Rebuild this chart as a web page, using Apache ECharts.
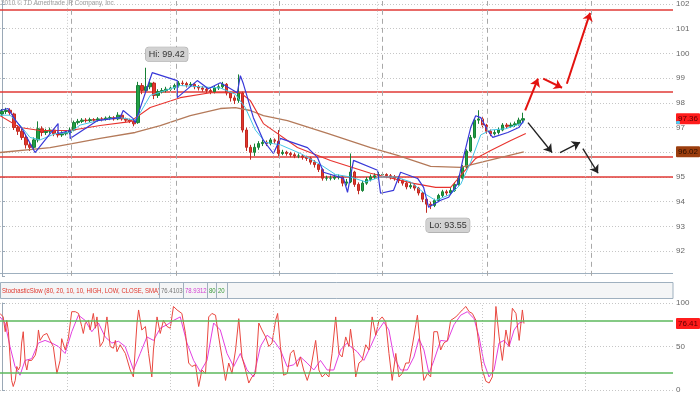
<!DOCTYPE html>
<html><head><meta charset="utf-8">
<script src="https://cdn.jsdelivr.net/npm/echarts@6/dist/echarts.min.js"></script>
<style>html,body{margin:0;padding:0;background:#fff}#c{width:700px;height:394px}</style>
</head><body><div id="c"></div>
<script>
// ---- data (bar index units on x, price on y) ----
const barSlots = 168;
// [open, close, low, high]
const candles = [
[97.55,97.65,97.45,97.75],[97.65,97.70,97.55,97.80],[97.70,97.60,97.50,97.78],[97.55,97.00,96.90,97.60],
[97.00,96.85,96.70,97.10],[96.85,96.60,96.50,96.95],[96.60,96.30,96.15,96.70],[96.30,96.20,96.05,96.40],
[96.20,96.50,96.10,96.60],[96.50,96.95,96.40,97.25],[96.95,96.80,96.65,97.05],[96.80,96.85,96.70,96.95],
[96.85,96.90,96.75,97.00],[96.90,96.75,96.65,96.95],[96.75,96.70,96.60,96.85],[96.70,96.75,96.62,96.85],
[96.75,96.80,96.68,96.90],[96.80,96.90,96.72,97.00],[96.90,97.20,96.85,97.28],[97.20,97.25,97.12,97.35],
[97.25,97.30,97.18,97.38],[97.30,97.28,97.20,97.38],[97.28,97.32,97.22,97.40],[97.32,97.30,97.22,97.38],
[97.30,97.35,97.24,97.42],[97.35,97.33,97.25,97.42],[97.33,97.38,97.28,97.45],[97.38,97.40,97.30,97.48],
[97.40,97.35,97.28,97.46],[97.35,97.50,97.30,97.62],[97.50,97.35,97.28,97.55],[97.35,97.30,97.22,97.40],
[97.30,97.25,97.18,97.36],[97.25,97.15,97.05,97.30],[97.20,98.70,97.15,98.85],[98.70,98.50,98.35,98.80],
[98.50,98.65,98.40,99.42],[98.65,98.80,98.55,98.95],[98.80,98.30,98.15,98.85],[98.30,98.45,98.20,98.55],
[98.45,98.50,98.38,98.60],[98.50,98.55,98.42,98.65],[98.55,98.60,98.48,98.70],[98.60,98.70,98.52,98.78],
[98.70,98.80,98.62,98.88],[98.80,98.78,98.68,98.90],[98.78,98.72,98.62,98.85],[98.72,98.75,98.64,98.84],
[98.75,98.65,98.55,98.80],[98.65,98.60,98.50,98.72],[98.60,98.55,98.45,98.68],[98.55,98.50,98.40,98.62],
[98.50,98.45,98.35,98.58],[98.45,98.60,98.38,98.68],[98.60,98.65,98.52,98.75],[98.65,98.75,98.58,98.85],
[98.75,98.40,98.30,98.80],[98.40,98.20,98.05,98.45],[98.20,98.10,97.95,98.30],[98.10,98.40,98.00,99.15],
[98.40,96.90,96.80,98.45],[96.90,96.20,96.05,97.00],[96.20,96.00,95.70,96.30],[96.00,96.20,95.85,96.35],
[96.20,96.35,96.10,96.45],[96.35,96.40,96.25,96.50],[96.40,96.35,96.25,96.48],[96.35,96.50,96.28,96.58],
[96.50,96.45,96.35,96.56],[96.45,95.95,95.85,96.90],[95.95,96.00,95.88,96.10],[96.00,95.95,95.86,96.06],
[95.95,95.90,95.80,96.02],[95.90,95.85,95.76,95.98],[95.85,95.85,95.76,95.95],[95.85,95.80,95.70,95.92],
[95.80,95.75,95.65,95.86],[95.75,95.60,95.50,95.82],[95.60,95.50,95.38,95.68],[95.50,95.30,95.20,95.55],
[95.30,94.95,94.85,95.35],[94.95,94.95,94.85,95.05],[94.95,94.95,94.86,95.06],[94.95,95.00,94.88,95.10],
[95.00,95.00,94.90,95.10],[95.00,94.75,94.62,95.05],[94.75,94.80,94.65,94.92],[94.80,95.20,94.75,95.95],
[95.20,94.70,94.60,95.25],[94.70,94.45,94.30,94.78],[94.45,94.75,94.40,94.85],[94.75,94.90,94.68,95.00],
[94.90,95.00,94.82,95.10],[95.00,95.05,94.92,95.15],[95.05,95.10,94.98,95.20],[95.10,95.10,95.00,95.20],
[95.10,95.05,94.95,95.15],[95.05,95.00,94.90,95.12],[95.00,94.95,94.85,95.08],[94.95,94.85,94.75,95.02],
[94.85,94.75,94.65,94.92],[94.75,94.60,94.50,94.82],[94.60,94.65,94.52,94.75],[94.65,94.55,94.45,94.72],
[94.55,94.35,94.25,94.60],[94.35,94.10,93.98,94.40],[94.10,93.90,93.55,94.15],[93.90,93.85,93.70,94.00],
[93.85,94.05,93.78,94.12],[94.05,94.25,93.98,94.32],[94.25,94.40,94.18,94.48],[94.40,94.35,94.25,94.48],
[94.35,94.45,94.28,94.55],[94.45,94.70,94.40,94.78],[94.70,94.95,94.65,95.05],[94.95,95.40,94.90,95.48],
[95.40,96.05,95.35,96.12],[96.05,96.60,96.00,96.70],[96.60,97.30,96.55,97.38],[97.30,97.35,97.15,97.70],
[97.35,97.10,97.00,97.42],[97.10,96.85,96.75,97.15],[96.85,96.75,96.65,96.92],[96.75,96.80,96.68,96.90],
[96.80,96.90,96.72,97.00],[96.90,97.10,96.85,97.18],[97.10,97.05,96.95,97.18],[97.05,97.10,96.98,97.20],
[97.10,97.15,97.02,97.24],[97.15,97.30,97.08,97.40],[97.30,97.36,97.20,97.60]
];
const fastMA = [[-0.5,97.5],[2,97.5],[4.5,97.1],[7,96.6],[9.5,96.5],[13.25,96.75],[17,96.8],[19.5,97.1],[24.5,97.3],[29.5,97.4],[33.25,97.3],[34.5,97.6],[37,98.3],[40.75,98.5],[44.5,98.7],[49.5,98.65],[54.5,98.6],[58.25,98.35],[60.75,97.8],[63.25,96.9],[65.75,96.4],[69.5,96.3],[74.5,95.95],[79.5,95.5],[83.25,95.1],[87,95.0],[90.75,94.8],[94.5,95.0],[98.25,95.0],[102,94.8],[105.75,94.3],[108.25,94.05],[112,94.3],[114.5,94.7],[117,95.6],[119.5,96.7],[122,96.9],[125.75,96.95],[130.25,97.2]];
const trailStop = [[-0.5,97.69],[1.5,97.77],[3.25,97.32],[5,96.96],[8.25,95.99],[14,97.16],[14,96.76],[17,96.88],[17,96.56],[23.75,97.28],[29.5,97.40],[30.25,97.69],[32.75,97.36],[33.25,97.20],[37.5,99.22],[43.75,98.90],[43.75,98.21],[48.75,98.90],[51.5,98.57],[54.5,98.81],[58.75,98.41],[59.5,99.10],[60.25,98.77],[62.75,97.40],[65.25,96.48],[67.75,95.95],[69.5,96.56],[76.25,96.19],[78.75,95.79],[80.25,95.19],[85.25,94.94],[86.25,94.38],[87.75,95.67],[93.75,95.27],[94.5,94.34],[97.75,94.46],[99.5,95.19],[103.75,94.94],[105.25,94.58],[106.5,93.77],[109.5,94.06],[111.5,94.18],[113.75,94.74],[115,95.67],[117,97.00],[118.25,97.48],[119.5,97.40],[121.25,96.88],[122.5,96.60],[126.25,96.80],[129,97.00],[130.25,97.28]];
const midMA = [[-0.5,97.48],[4.5,97.00],[9.5,96.88],[17,96.88],[24.5,97.08],[32,97.24],[37,97.81],[44.5,98.21],[52,98.41],[59.5,98.41],[62,98.09],[65.25,97.16],[73.75,96.19],[82,95.67],[92,95.15],[102.75,94.74],[108.25,94.58],[112,94.58],[114.5,95.06],[118.25,95.75],[122,96.07],[127,96.48],[130.75,96.76]];
const slowMA = [[-0.5,95.99],[12,96.19],[17.5,96.35],[24.5,96.56],[33.25,96.80],[39.5,97.08],[47,97.48],[54.5,97.77],[58.25,97.81],[62,97.69],[65.25,97.48],[71.25,97.28],[81.25,96.76],[92,96.19],[98.75,95.87],[107,95.43],[114.5,95.39],[119.5,95.59],[130.25,96.02]];
const stochK = [[-0.5,88],[0.3,84],[0.8,67],[1.2,80],[1.6,67],[2,38],[2.4,11],[2.8,4],[3.3,11],[3.7,27],[4.1,23],[4.5,27],[4.9,54],[5.3,67],[5.8,31],[6.2,23],[6.6,34],[7.4,34],[8.3,40],[8.7,48],[9.1,69],[9.5,57],[10.3,63],[11.2,65],[12,57],[12.8,50],[13.7,19],[14.5,34],[14.9,59],[15.8,46],[16.6,61],[17.4,90],[18.3,90],[19.1,88],[19.9,73],[20.3,65],[20.8,77],[21.6,80],[22,69],[22.8,88],[23.3,71],[23.7,84],[24.5,50],[25.3,56],[26.2,84],[27,50],[27.8,48],[28.3,57],[28.7,44],[29.5,52],[30.8,42],[32,23],[32.8,15],[33.7,77],[34.1,92],[34.9,69],[35.8,73],[36.6,42],[37.4,15],[37.8,46],[38.7,84],[39.5,65],[40.3,80],[41.2,73],[42,71],[42.8,96],[43.7,92],[44.9,88],[45.8,65],[46.6,31],[47.4,27],[48.3,29],[49.1,4],[49.9,23],[50.8,19],[51.6,84],[52.4,88],[53.3,86],[54.1,61],[54.9,38],[55.8,11],[56.6,31],[57.4,19],[58.3,46],[59.1,82],[59.9,38],[60.8,23],[61.6,8],[62.4,15],[63.3,19],[64.1,77],[64.9,69],[65.8,61],[66.6,50],[67.4,54],[68.3,80],[68.8,88],[69.5,50],[70.3,17],[71.2,19],[72,42],[72.8,46],[73.7,27],[74.5,38],[75.3,23],[76.2,11],[77,23],[78.3,57],[79.1,23],[79.9,15],[80.8,19],[81.6,15],[82.4,42],[83.3,84],[84.1,42],[84.9,38],[85.8,61],[86.6,50],[87,70],[87.8,42],[88.3,15],[89.1,31],[89.9,34],[90.8,52],[91.6,46],[92.4,84],[93.3,63],[94.1,80],[94.9,84],[95.8,78],[96.6,42],[97.4,11],[98.3,42],[99.1,15],[99.9,19],[100.8,31],[101.6,31],[102.4,50],[103.3,75],[103.7,86],[104.5,46],[105.3,11],[106.2,19],[107,15],[107.8,67],[108.7,67],[109.5,46],[110.3,54],[111.2,57],[112,80],[113.3,84],[114.1,88],[114.9,92],[115.8,96],[116.6,90],[117.4,88],[118.3,80],[119.1,50],[119.9,23],[120.8,10],[121.6,8],[122.4,15],[123.3,96],[124.1,61],[124.9,34],[125.8,69],[126.6,50],[127.4,94],[128.3,88],[129.1,57],[129.9,92],[130.3,76.41]];
const stochD = [[-0.5,84],[0.75,77],[2,50],[3.25,27],[4.5,17],[5.75,34],[7.42,36],[9.08,54],[10.75,57],[12.42,54],[14.08,50],[15.75,42],[17.42,67],[19.08,86],[20.75,80],[22.42,67],[24.08,77],[25.75,61],[27.42,54],[29.08,56],[30.75,50],[32.83,23],[34.5,42],[36.17,61],[37.83,57],[39.5,71],[41.17,75],[42.83,80],[44.5,84],[46.17,54],[47.83,34],[49.5,21],[51.17,34],[52.83,77],[54.5,69],[56.17,42],[57.83,27],[59.5,42],[61.17,23],[62.83,15],[64.5,50],[66.17,63],[67.83,57],[69.5,46],[71.17,27],[72.83,29],[74.5,38],[76.17,31],[77.83,23],[79.5,34],[81.17,23],[82.83,23],[84.5,46],[86.17,54],[87,50],[88.67,44],[90.33,34],[92,50],[93.67,67],[95.33,78],[96.58,69],[97.83,38],[99.5,23],[101.17,23],[102.83,38],[104.08,59],[105.33,46],[106.58,19],[107.83,34],[109.5,57],[111.17,56],[112.83,75],[114.5,86],[116.17,90],[117.83,82],[119.08,61],[120.33,31],[121.58,15],[122.83,23],[124.08,54],[125.33,57],[126.58,50],[127.83,69],[129.08,77],[130.33,78.93]];
const priceLevels = [101.76, 98.45, 95.80, 95.02];
const periodDotted = [16.2, 41.9, 67.6, 93.6, 119.8, 145.5];
const periodDashed = [17.2, 43.4, 69.1, 94.9, 121.1, 147.0];
const upArrows = [[[130.6,97.69],[133.8,98.98]],[[135.1,98.98],[139.8,98.61]],[[141.0,98.77],[146.8,101.64]]];
const downArrows = [[[131.3,97.20],[137.3,95.99]],[[139.3,95.99],[144.3,96.40]],[[145.0,96.15],[148.8,95.15]]];
const hiPoint = [36, 99.42];
const loPoint = [106, 93.55];
const lastClose = 97.36, lastFast = 97.20, lastSlow = 96.02;
const lastK = 76.4103, lastD = 78.9312;
const stochParams = 'StochasticSlow (80, 20, 10, 10, HIGH, LOW, CLOSE, SMA)';
const overbought = 80, oversold = 20;
const priceMin = 91, priceMax = 102.121;

// ---- chart ----
const FONT = '"Liberation Sans",Arial,sans-serif';
const chart = echarts.init(document.getElementById('c'), null, {renderer:'canvas'});
const slots = Array.from({length: barSlots}, (_, i) => String(i));
const plotRight = 673;
const isInt = v => Math.abs(v - Math.round(v)) < 1e-6;

function lastLabel(val, bg, fg, txt){
  return {yAxis: val, lineStyle:{color:'rgba(0,0,0,0)', width:0},
    label:{show:true, position:'end', distance:3, formatter: txt, backgroundColor: bg, color: fg,
      fontSize: 8, fontFamily: FONT, padding:[2,2,1,2], borderRadius:1}};
}
const hdrText = (x, text, fill) => ({type:'text', x:x, y:291, scaleX:0.75, scaleY:1, originX:0, originY:0,
  style:{text:text, fill:fill, font:'8px ' + FONT, verticalAlign:'middle'}});
const hdrDiv = x => ({type:'line', shape:{x1:x, y1:282.5, x2:x, y2:298.5}, style:{stroke:'#9fb0bf', lineWidth:1}});

const option = {
  animation:false,
  textStyle:{fontFamily:FONT},
  grid:[
    {left:0, width:plotRight, top:0, height:275.8},
    {left:0, width:plotRight, top:303, height:87}
  ],
  xAxis:[
    {type:'category', gridIndex:0, data:slots, boundaryGap:true, show:false},
    {type:'value', gridIndex:0, min:-0.5, max:barSlots-0.5, show:false},
    {type:'value', gridIndex:1, min:-0.5, max:barSlots-0.5, show:false}
  ],
  yAxis:[
    {gridIndex:0, position:'right', min:priceMin, max:priceMax, interval:1,
     axisLine:{show:true, lineStyle:{color:'#9aa8b6'}},
     axisTick:{show:true, length:3, lineStyle:{color:'#9aa8b6'}},
     axisLabel:{fontSize:8, color:'#666', margin:3, fontFamily:FONT, showMaxLabel:false,
       formatter: v => (isInt(v) && v > priceMin) ? String(Math.round(v)) : ''},
     splitLine:{show:true, showMinLine:false, showMaxLine:false, lineStyle:{color:'#c6c6c6', type:[1,2]}}},
    {gridIndex:1, position:'right', min:0, max:100, interval:50,
     axisLine:{show:true, lineStyle:{color:'#9aa8b6'}},
     axisTick:{show:true, length:3, lineStyle:{color:'#9aa8b6'}},
     axisLabel:{fontSize:8, color:'#666', margin:3, fontFamily:FONT},
     splitLine:{show:true, lineStyle:{color:'#c6c6c6', type:[1,2]}}}
  ],
  series:[
    {type:'line', xAxisIndex:1, yAxisIndex:0, data:[], silent:true,
     markLine:{silent:true, symbol:['none','none'], label:{show:false},
       data: periodDotted.map(x => ({xAxis:x, lineStyle:{color:'#c8c8c8', type:[1,2], width:1}}))
         .concat(periodDashed.map(x => ({xAxis:x, lineStyle:{color:'#a8a8a8', type:[5,4], width:1}})))}},
    {type:'candlestick', xAxisIndex:0, yAxisIndex:0, data:candles, barWidth:3, z:3,
     itemStyle:{color:'#22a045', color0:'#e2362c', borderColor:'#178036', borderColor0:'#c02a22', borderWidth:1},
     markLine:{silent:true, symbol:['none','none'], z:2,
       data: priceLevels.map(v => ({yAxis:v, label:{show:false}, lineStyle:{color:'#e03a36', width:1.5, type:'solid'}}))
         .concat([lastLabel(lastClose, '#ff1c1c', '#5a0000', lastClose.toFixed(2))])},
     markPoint:{silent:true, data:[
       {coord:hiPoint, symbol:'rect', symbolSize:[1,1], itemStyle:{color:'rgba(0,0,0,0)'},
        label:{show:true, position:[0,-20], formatter:'Hi: ' + hiPoint[1].toFixed(2), fontSize:9, color:'#333', fontFamily:FONT,
          backgroundColor:'#d2d2d2', borderColor:'#a9a9a9', borderWidth:0.6, borderRadius:3, padding:[3,3,2,3]}},
       {coord:loPoint, symbol:'rect', symbolSize:[1,1], itemStyle:{color:'rgba(0,0,0,0)'},
        label:{show:true, position:[0,6], formatter:'Lo: ' + loPoint[1].toFixed(2), fontSize:9, color:'#333', fontFamily:FONT,
          backgroundColor:'#d2d2d2', borderColor:'#a9a9a9', borderWidth:0.6, borderRadius:3, padding:[3,3,2,3]}}
     ]}},
    {type:'line', xAxisIndex:1, yAxisIndex:0, data:slowMA, symbol:'none', z:4,
     lineStyle:{color:'#b47a5a', width:1.3},
     markLine:{silent:true, symbol:['none','none'], data:[lastLabel(lastSlow, '#9c3e0e', '#2a0e00', lastSlow.toFixed(2))]}},
    {type:'line', xAxisIndex:1, yAxisIndex:0, data:midMA, symbol:'none', z:4,
     lineStyle:{color:'#e8332e', width:1.1}},
    {type:'line', xAxisIndex:1, yAxisIndex:0, data:fastMA, symbol:'none', z:4,
     lineStyle:{color:'#45c6e6', width:1},
     markLine:{silent:true, symbol:['none','none'], data:[lastLabel(lastFast, '#4cc8f0', '#4cc8f0', '')]}},
    {type:'line', xAxisIndex:1, yAxisIndex:0, data:trailStop, symbol:'none', z:4,
     lineStyle:{color:'#3838d8', width:1.2}},
    {type:'line', xAxisIndex:1, yAxisIndex:0, data:[], z:6,
     markLine:{silent:true, symbol:['none','arrow'], symbolSize:8, label:{show:false},
       data: upArrows.map(a => [{coord:a[0]}, {coord:a[1], lineStyle:{color:'#e3120f', width:2, type:'solid'}}])
        .concat(downArrows.map(a => [{coord:a[0]}, {coord:a[1], lineStyle:{color:'#222', width:1.4, type:'solid'}}]))}},
    // stochastic panel
    {type:'line', xAxisIndex:2, yAxisIndex:1, data:stochK, symbol:'none', z:4,
     lineStyle:{color:'#e9473f', width:1},
     markLine:{silent:true, symbol:['none','none'],
       data: periodDotted.map(x => ({xAxis:x, label:{show:false}, lineStyle:{color:'#c8c8c8', type:[1,2], width:1}}))
        .concat([overbought, oversold].map(v => ({yAxis:v, label:{show:false}, lineStyle:{color:'#5cb85c', width:1.5, type:'solid'}})))
        .concat([lastLabel(lastK, '#ff1c1c', '#5a0000', lastK.toFixed(2))])}},
    {type:'line', xAxisIndex:2, yAxisIndex:1, data:stochD, symbol:'none', z:3,
     lineStyle:{color:'#e23fe0', width:1}}
  ],
  graphic:[
    {type:'text', x:1, y:-1, scaleX:0.8, originX:0, originY:0, style:{text:'2010 \u00a9 TD Ameritrade IP Company, Inc.', fill:'#999', font:'8px ' + FONT}},
    {type:'line', shape:{x1:0, y1:273.5, x2:plotRight, y2:273.5}, style:{stroke:'#9fb0bf', lineWidth:1}},
    {type:'rect', shape:{x:0.5, y:282.5, width:plotRight-0.5, height:16}, style:{fill:'#f4f5f6', stroke:'#9fb0bf', lineWidth:1}},
    hdrText(2, stochParams, '#e0352b'),
    hdrDiv(159.5),
    hdrText(161, lastK.toFixed(4), '#777'),
    hdrDiv(183.5),
    hdrText(185, lastD.toFixed(4), '#d23ed2'),
    hdrDiv(207.5),
    hdrText(209, String(overbought), '#3a9a3a'),
    hdrDiv(216.5),
    hdrText(218, String(oversold), '#3a9a3a'),
    hdrDiv(227.5)
  ]
};
chart.setOption(option);
</script></body></html>
